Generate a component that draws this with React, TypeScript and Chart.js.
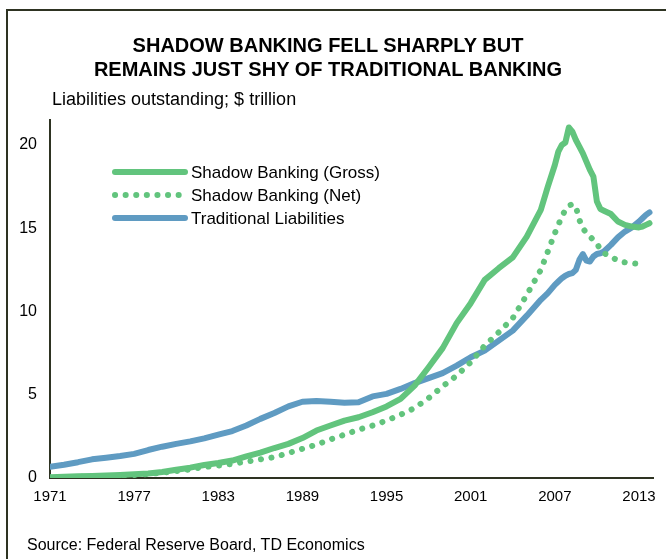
import React, { useEffect, useRef } from "react";
import { Chart, registerables } from "chart.js";

Chart.register(...registerables);

// Time axis (decimal years)
const years = [
  1971, 1972, 1973, 1974, 1975, 1976, 1977, 1978, 1979, 1980,
  1981, 1982, 1983, 1984, 1985, 1986, 1987, 1988, 1989, 1990,
  1991, 1992, 1993, 1994, 1995, 1996, 1997, 1998, 1999, 2000,
  2001, 2002, 2003, 2004, 2005, 2006,
  2006.5, 2007, 2007.25, 2007.5, 2007.75, 2008, 2008.25, 2008.5, 2008.75, 2009,
  2009.25, 2009.5, 2009.75, 2010, 2010.25, 2010.5, 2011, 2011.5, 2012, 2012.5,
  2013, 2013.25, 2013.5, 2013.75,
];

// $ trillion
const shadowGross = [
  0.05, 0.07, 0.1, 0.12, 0.15, 0.18, 0.22, 0.27, 0.36, 0.5,
  0.62, 0.78, 0.9, 1.05, 1.3, 1.52, 1.8, 2.05, 2.4, 2.85,
  3.15, 3.45, 3.65, 3.95, 4.3, 4.75, 5.55, 6.65, 7.8, 9.3,
  10.5, 11.9, 12.6, 13.25, 14.5, 16.1,
  17.5, 18.8, 19.6, 20.0, 20.15, 21.05, 20.8, 20.3, 19.9, 19.5,
  19.0, 18.5, 18.1, 16.6, 16.15, 16.05, 15.85, 15.4, 15.2, 15.1,
  15.05, 15.1, 15.2, 15.3,
];

const shadowNet = [
  0.03, 0.05, 0.07, 0.09, 0.11, 0.14, 0.18, 0.23, 0.32, 0.42,
  0.52, 0.66, 0.75, 0.85, 0.98, 1.12, 1.25, 1.5, 1.75, 2.0,
  2.32, 2.6, 2.9, 3.15, 3.45, 3.8, 4.2, 4.8, 5.5, 6.15,
  6.95, 7.95, 8.75, 9.6, 11.0, 12.5,
  13.6, 14.7, 15.2, 15.7, 16.1, 16.35, 16.45, 16.3, 15.5, 15.0,
  14.7, 14.5, 14.3, 14.1, 13.7, 13.5, 13.3, 13.05, 12.95, 12.9,
  12.85, 12.8, null, null,
];

const traditional = [
  0.68, 0.8, 0.95, 1.12, 1.22, 1.32, 1.45, 1.68, 1.88, 2.05,
  2.2, 2.38, 2.6, 2.82, 3.15, 3.55, 3.9, 4.3, 4.58, 4.62,
  4.58, 4.52, 4.55, 4.9, 5.05, 5.35, 5.7, 6.0, 6.3, 6.75,
  7.25, 7.65, 8.25, 8.85, 9.75, 10.7,
  11.1, 11.6, 11.8, 12.0, 12.15, 12.25, 12.3, 12.5, 13.1, 13.45,
  13.05, 13.0, 13.3, 13.45, 13.5, 13.6, 14.0, 14.45, 14.8, 15.05,
  15.4, 15.6, 15.8, 15.95,
];

const seriesNames = [
  "Shadow Banking (Gross)",
  "Shadow Banking (Net)",
  "Traditional Liabilities",
];

const xTickYears = [1971, 1977, 1983, 1989, 1995, 2001, 2007, 2013];
const yTickValues = [0, 5, 10, 15, 20];

const titleLines = [
  "SHADOW BANKING FELL SHARPLY BUT",
  "REMAINS JUST SHY OF TRADITIONAL BANKING",
];
const subtitleText = "Liabilities outstanding; $ trillion";
const sourceText = "Source: Federal Reserve Board, TD Economics";

const GREEN = "#62c47d";
const BLUE = "#5f9bc2";
const AXIS = "#2e3322";
const FONT = '"Liberation Sans", Arial, Helvetica, sans-serif';

const toPoints = (vals: (number | null)[]) =>
  years.map((x, i) => ({ x, y: vals[i] }));

const inlineLegend = {
  id: "inlineLegend",
  afterDatasetsDraw(chart: any) {
    const { ctx, chartArea } = chart;
    const x0 = chartArea.left + 65;
    const x1 = x0 + 70;
    const yStart = chartArea.top + 52;
    const dy = 23;
    chart.data.datasets.forEach((ds: any, i: number) => {
      const y = yStart + i * dy;
      ctx.save();
      ctx.strokeStyle = ds.borderColor;
      ctx.lineWidth = ds.borderWidth;
      ctx.lineCap = "round";
      ctx.setLineDash(ds.borderDash || []);
      ctx.beginPath();
      ctx.moveTo(x0, y);
      ctx.lineTo(x1, y);
      ctx.stroke();
      ctx.setLineDash([]);
      ctx.fillStyle = "#000";
      ctx.font = `17px ${FONT}`;
      ctx.textBaseline = "middle";
      ctx.textAlign = "left";
      ctx.fillText(ds.label, x1 + 6, y + 1);
      ctx.restore();
    });
  },
};

export default function App() {
  const canvasRef = useRef<HTMLCanvasElement | null>(null);

  useEffect(() => {
    document.body.style.margin = "0";
    const canvas = canvasRef.current;
    if (!canvas) return;
    const chart = new Chart(canvas, {
      type: "line",
      data: {
        datasets: [
          {
            label: seriesNames[0],
            data: toPoints(shadowGross),
            borderColor: GREEN,
            backgroundColor: GREEN,
            borderWidth: 6,
            borderCapStyle: "round",
            borderJoinStyle: "round",
            pointRadius: 0,
            tension: 0,
          },
          {
            label: seriesNames[1],
            data: toPoints(shadowNet),
            borderColor: GREEN,
            backgroundColor: GREEN,
            borderWidth: 6,
            borderDash: [0.1, 10.5],
            borderCapStyle: "round",
            borderJoinStyle: "round",
            pointRadius: 0,
            tension: 0,
          },
          {
            label: seriesNames[2],
            data: toPoints(traditional),
            borderColor: BLUE,
            backgroundColor: BLUE,
            borderWidth: 6,
            borderCapStyle: "round",
            borderJoinStyle: "round",
            pointRadius: 0,
            tension: 0,
          },
        ],
      },
      options: {
        animation: false,
        responsive: false,
        maintainAspectRatio: false,
        events: [],
        layout: { padding: { left: 0, top: 120, right: 13, bottom: 50 } },
        plugins: {
          legend: { display: false },
          title: { display: false },
          tooltip: { enabled: false },
        },
        scales: {
          x: {
            type: "linear",
            min: 1971,
            max: 2014,
            afterBuildTicks: (scale: any) => {
              scale.ticks = xTickYears.map((v) => ({ value: v }));
            },
            afterFit: (scale: any) => {
              scale.height = 31;
            },
            grid: { display: false, drawTicks: false },
            border: { display: true, color: AXIS, width: 2 },
            ticks: {
              color: "#000",
              font: { family: FONT, size: 15 },
              padding: 10,
              maxRotation: 0,
              autoSkip: false,
              callback: (v: any) => String(v),
            },
          },
          y: {
            type: "linear",
            min: 0,
            max: 21.5,
            afterBuildTicks: (scale: any) => {
              scale.ticks = yTickValues.map((v) => ({ value: v }));
            },
            afterFit: (scale: any) => {
              scale.width = 50;
            },
            grid: { display: false, drawTicks: false },
            border: { display: true, color: AXIS, width: 2 },
            ticks: {
              color: "#000",
              font: { family: FONT, size: 16 },
              padding: 13,
              callback: (v: any) => String(v),
            },
          },
        },
      },
      plugins: [inlineLegend],
    } as any);
    return () => chart.destroy();
  }, []);

  return (
    <div
      style={{
        position: "relative",
        width: 666,
        height: 559,
        background: "#fff",
        overflow: "hidden",
        fontFamily: FONT,
        color: "#000",
      }}
    >
      <div
        style={{
          position: "absolute",
          left: 6,
          top: 9,
          width: 700,
          height: 600,
          borderLeft: `2px solid ${AXIS}`,
          borderTop: `2px solid ${AXIS}`,
        }}
      />
      <canvas
        ref={canvasRef}
        width={666}
        height={559}
        style={{ position: "absolute", left: 0, top: 0, width: 666, height: 559 }}
      />
      <div
        style={{
          position: "absolute",
          left: 0,
          width: 656,
          top: 33,
          textAlign: "center",
          fontWeight: "bold",
          fontSize: 20,
          lineHeight: "24px",
        }}
      >
        {titleLines.map((t) => (
          <div key={t}>{t}</div>
        ))}
      </div>
      <div
        style={{
          position: "absolute",
          left: 52,
          top: 88,
          fontSize: 18,
          lineHeight: "22px",
          whiteSpace: "nowrap",
        }}
      >
        {subtitleText}
      </div>
      <div
        style={{
          position: "absolute",
          left: 27,
          top: 535,
          fontSize: 16,
          lineHeight: "20px",
          whiteSpace: "nowrap",
        }}
      >
        {sourceText}
      </div>
    </div>
  );
}
